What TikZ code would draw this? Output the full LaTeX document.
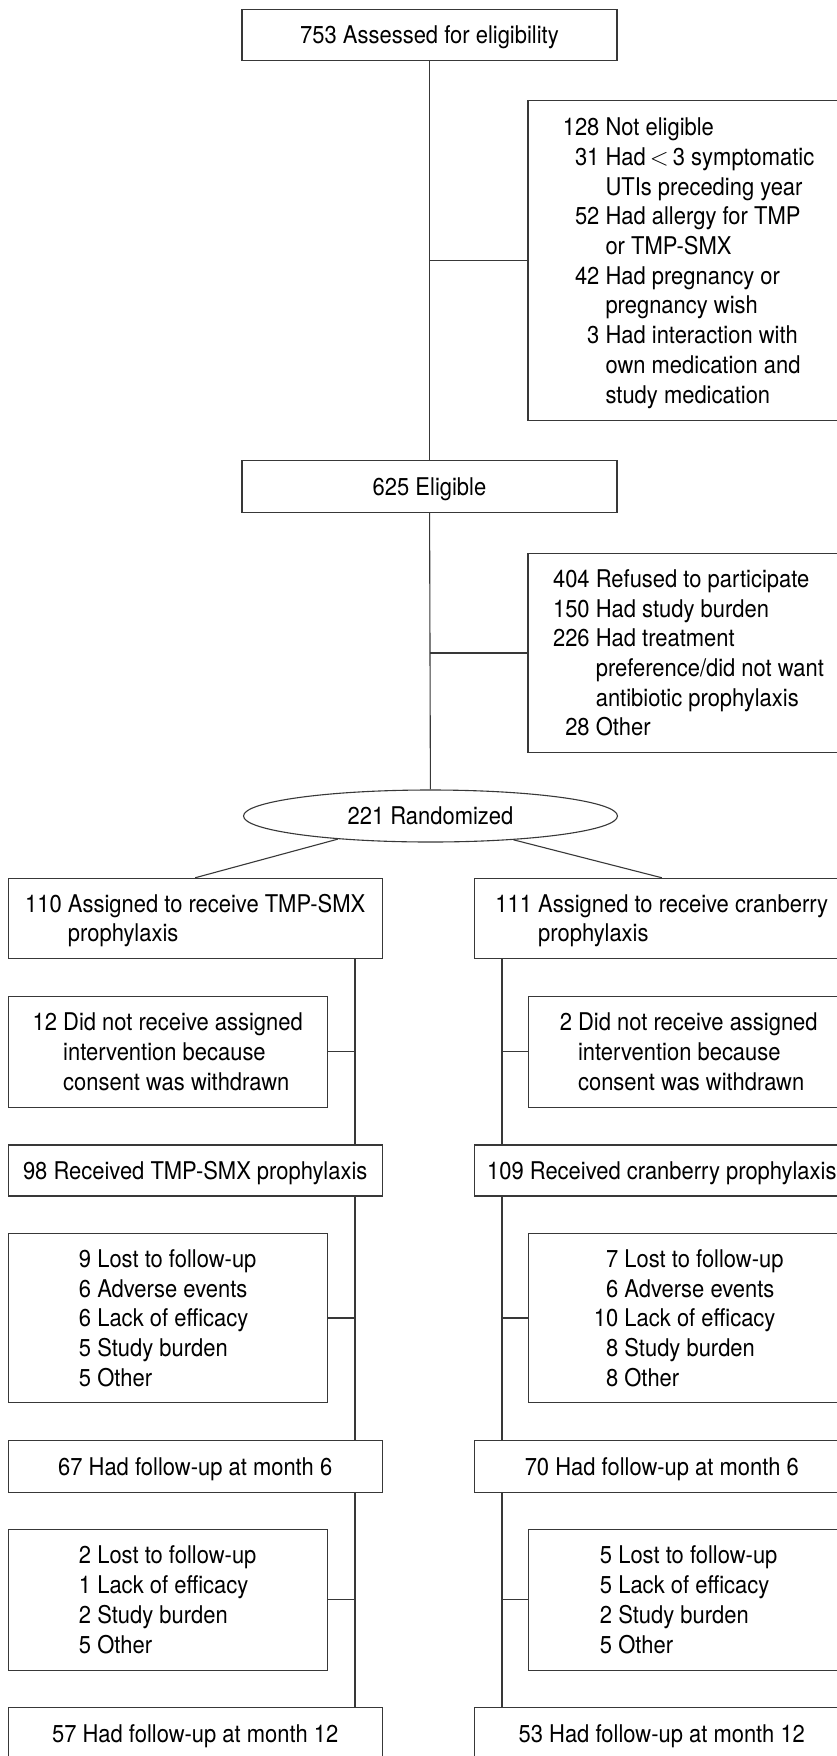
\documentclass[tikz,border=0pt]{standalone}
\usepackage{fontspec}
\setmainfont{TeX Gyre Heros}[FakeStretch=0.9]
\usetikzlibrary{shapes.geometric}
\newcommand{\mylist}[1]{\raisebox{-2.8pt}[\height][\depth]{\begin{tabular}{@{}r@{\ }l@{}}#1\end{tabular}}}
\newcommand{\myone}[1]{\raisebox{-2.8pt}[\height][\depth]{\begin{tabular}{@{}c@{}}#1\end{tabular}}}
\tikzset{
  fbox/.style={draw=black!78, line width=1.1pt, inner sep=0pt, font=\fontsize{24.4}{29.7}\selectfont},
  conn/.style={draw=black!78, line width=1.1pt},
}
\begin{document}
\begin{tikzpicture}[x=1pt,y=-1pt]
\useasboundingbox (0,0) rectangle (837,1756);
\clip (0,0) rectangle (837,1756);
\fill[white] (0,0) rectangle (837,1756);

% top section
\node[fbox, minimum width=375pt, minimum height=51pt] (top) at (429.5,34.8) {\myone{753 Assessed for eligibility}};
\node[fbox, minimum width=321pt, minimum height=320pt] (nelig) at (688.5,260.7) {\mylist{128 & Not eligible\\ 31 & Had\,$<$\,3 symptomatic\\ & UTIs preceding year\\ 52 & Had allergy for TMP\\ & or TMP-SMX\\ 42 & Had pregnancy or\\ & pregnancy wish\\ 3 & Had interaction with\\ & own medication and\\ & study medication}};
\node[fbox, minimum width=375pt, minimum height=51.6pt] (elig) at (429.5,486.5) {\myone{625 Eligible}};
\node[fbox, minimum width=321pt, minimum height=199.4pt] (refused) at (688.5,653) {\mylist{404 & Refused to participate\\ 150 & Had study burden\\ 226 & Had treatment\\ & preference/did not want\\ & antibiotic prophylaxis\\ 28 & Other}};
\node[fbox, ellipse, minimum width=374pt, minimum height=52pt] (rand) at (430.5,816) {\myone{221 Randomized}};

% left column
\node[fbox, minimum width=374.3pt, minimum height=80pt] (assignL) at (195.2,918.3) {\mylist{110 & Assigned to receive TMP-SMX\\ & prophylaxis}};
\node[fbox, minimum width=319.3pt, minimum height=111.3pt] (didL) at (167.7,1051.7) {\mylist{12 & Did not receive assigned\\ & intervention because\\ & consent was withdrawn}};
\node[fbox, minimum width=374.3pt, minimum height=51pt] (recvL) at (195.2,1170.5) {\myone{98 Received TMP-SMX prophylaxis}};
\node[fbox, minimum width=319.3pt, minimum height=169.4pt] (lostL) at (167.7,1318) {\mylist{9 & Lost to follow-up\\ 6 & Adverse events\\ 6 & Lack of efficacy\\ 5 & Study burden\\ 5 & Other}};
\node[fbox, minimum width=374.3pt, minimum height=51.6pt] (m6L) at (195.2,1466.5) {\myone{67 Had follow-up at month 6}};
\node[fbox, minimum width=319.3pt, minimum height=140.7pt] (lostbL) at (167.7,1599.7) {\mylist{2 & Lost to follow-up\\ 1 & Lack of efficacy\\ 2 & Study burden\\ 5 & Other}};
\node[fbox, minimum width=374.3pt, minimum height=51.6pt] (m12L) at (195.2,1733.5) {\myone{57 Had follow-up at month 12}};

% right column
\node[fbox, minimum width=374.4pt, minimum height=80pt] (assignR) at (661.8,918.3) {\mylist{111 & Assigned to receive cranberry\\ & prophylaxis}};
\node[fbox, minimum width=320.7pt, minimum height=111.3pt] (didR) at (688.7,1051.7) {\mylist{2 & Did not receive assigned\\ & intervention because\\ & consent was withdrawn}};
\node[fbox, minimum width=374.4pt, minimum height=51pt] (recvR) at (661.8,1170.5) {\myone{109 Received cranberry prophylaxis}};
\node[fbox, minimum width=320.7pt, minimum height=169.4pt] (lostR) at (688.7,1318) {\mylist{7 & Lost to follow-up\\ 6 & Adverse events\\ 10 & Lack of efficacy\\ 8 & Study burden\\ 8 & Other}};
\node[fbox, minimum width=374.4pt, minimum height=51.6pt] (m6R) at (661.8,1466.5) {\myone{70 Had follow-up at month 6}};
\node[fbox, minimum width=320.7pt, minimum height=140.7pt] (lostbR) at (688.7,1599.7) {\mylist{5 & Lost to follow-up\\ 5 & Lack of efficacy\\ 2 & Study burden\\ 5 & Other}};
\node[fbox, minimum width=374.4pt, minimum height=51.6pt] (m12R) at (661.8,1733.5) {\myone{53 Had follow-up at month 12}};

% connectors: top section
\draw[conn] (top) -- (elig);
\draw[conn] (elig) -- (rand);
\draw[conn] (nelig.west) -- (nelig.west -| top.south);
\draw[conn] (refused.west) -- (refused.west -| elig.south);
\draw[conn] (rand.194.9) -- (assignL.north);
\draw[conn] (rand.344.8) -- (assignR.north);

% left column connectors
\coordinate (lx) at (355,0);
\draw[conn] (assignL.south -| lx) -- (recvL.north -| lx);
\draw[conn] (recvL.south -| lx) -- (m6L.north -| lx);
\draw[conn] (m6L.south -| lx) -- (m12L.north -| lx);
\draw[conn] (didL.east) -- (didL.east -| lx);
\draw[conn] (lostL.east) -- (lostL.east -| lx);
\draw[conn] (lostbL.east) -- (lostbL.east -| lx);

% right column connectors
\coordinate (rx) at (502,0);
\draw[conn] (assignR.south -| rx) -- (recvR.north -| rx);
\draw[conn] (recvR.south -| rx) -- (m6R.north -| rx);
\draw[conn] (m6R.south -| rx) -- (m12R.north -| rx);
\draw[conn] (didR.west) -- (didR.west -| rx);
\draw[conn] (lostR.west) -- (lostR.west -| rx);
\draw[conn] (lostbR.west) -- (lostbR.west -| rx);
\end{tikzpicture}
\end{document}
